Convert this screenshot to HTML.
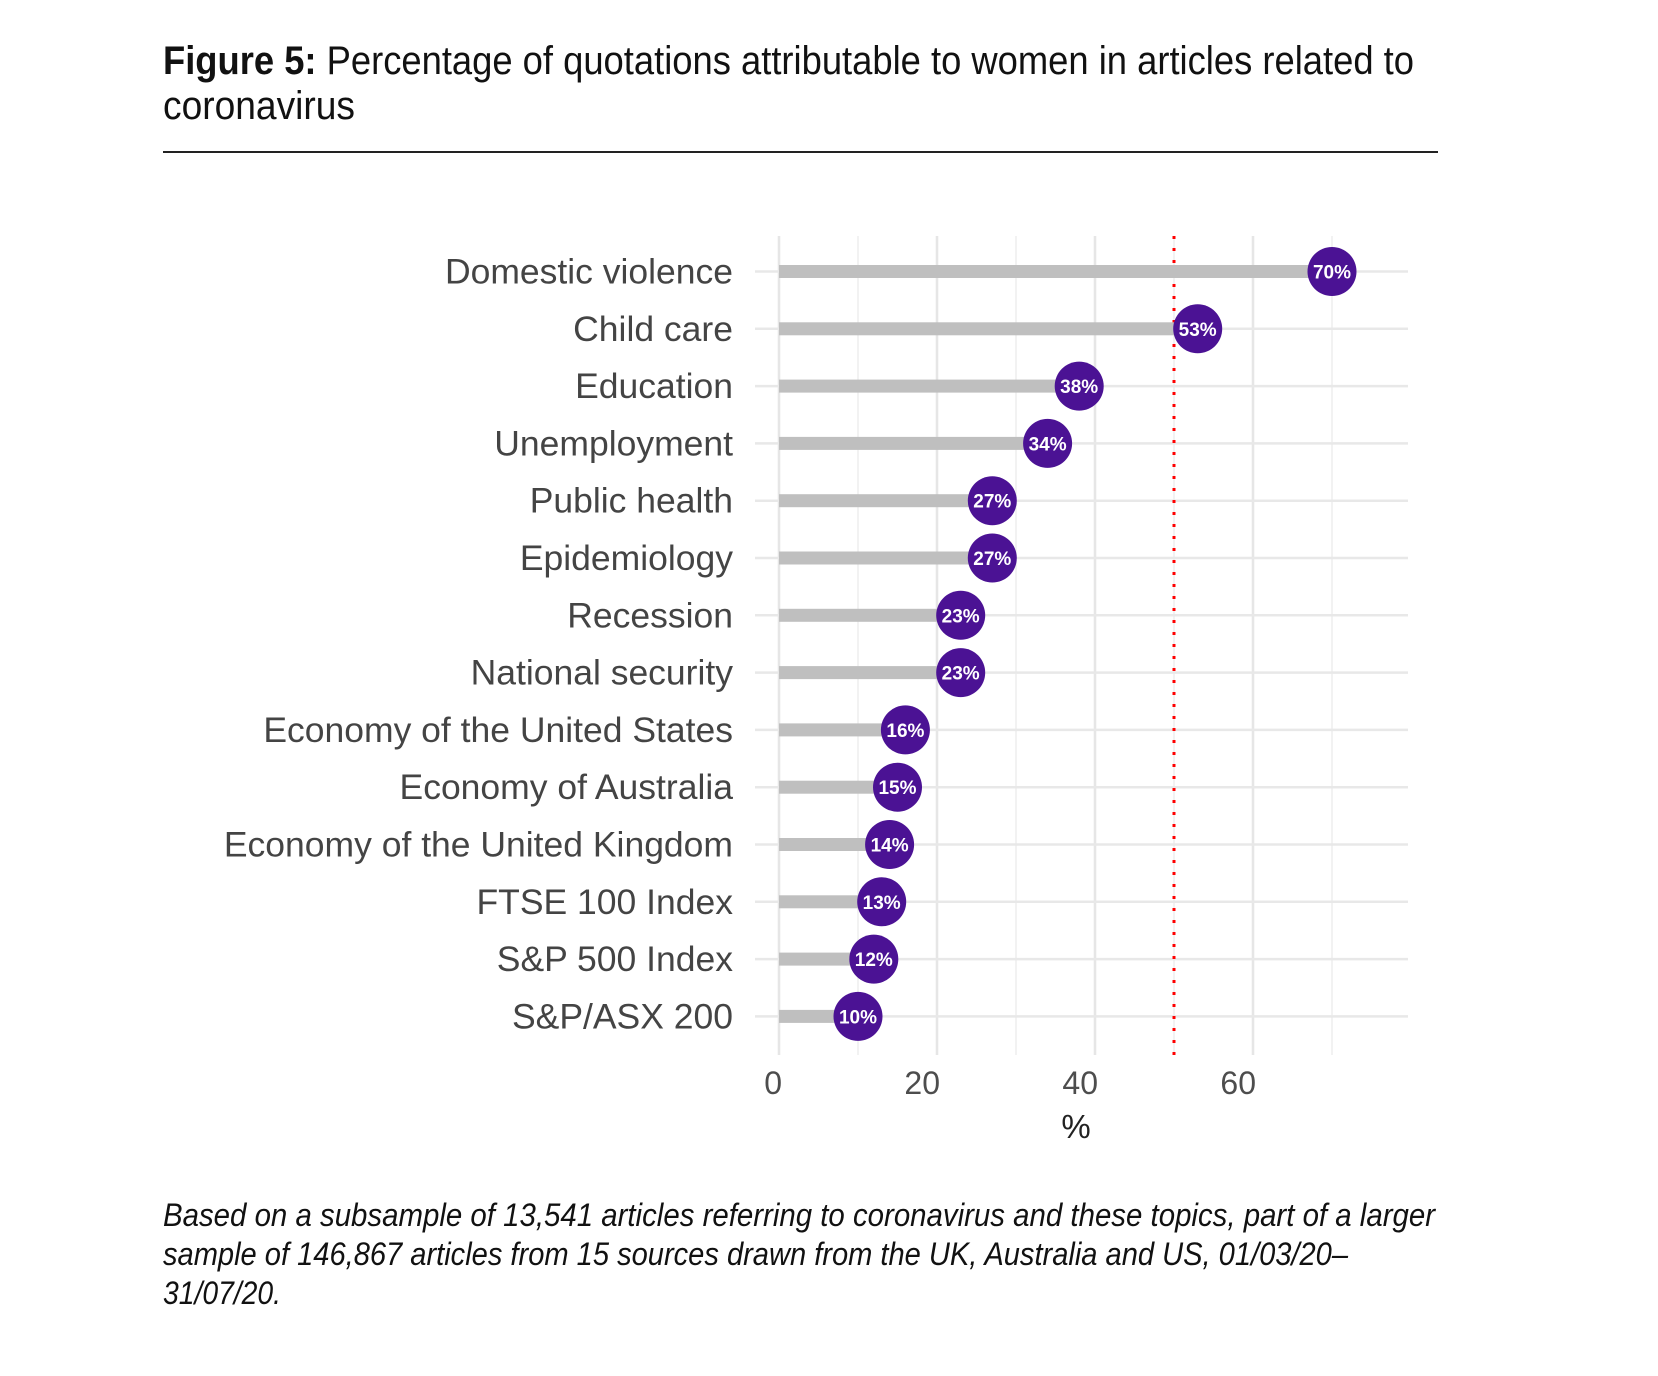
<!DOCTYPE html>
<html><head><meta charset="utf-8"><style>
html,body{margin:0;padding:0;background:#fff;}
svg{display:block;}
</style></head><body>
<svg width="1658" height="1376" viewBox="0 0 1658 1376" xmlns="http://www.w3.org/2000/svg">
<text x="163" y="74" font-family="Liberation Sans Narrow, Liberation Sans, sans-serif" font-size="40" fill="#111" textLength="1251" lengthAdjust="spacingAndGlyphs"><tspan font-weight="bold">Figure 5:</tspan> Percentage of quotations attributable to women in articles related to</text>
<text x="163" y="119" font-family="Liberation Sans Narrow, Liberation Sans, sans-serif" font-size="40" fill="#111" textLength="192" lengthAdjust="spacingAndGlyphs">coronavirus</text>
<line x1="163" y1="152" x2="1438" y2="152" stroke="#222" stroke-width="2"/>
<g id="chart"></g>
<g font-family="Liberation Sans Narrow, Liberation Sans, sans-serif" font-style="italic" font-size="32" fill="#111">
<text x="163" y="1226" textLength="1272" lengthAdjust="spacingAndGlyphs">Based on a subsample of 13,541 articles referring to coronavirus and these topics, part of a larger</text>
<text x="163" y="1265" textLength="1185" lengthAdjust="spacingAndGlyphs">sample of 146,867 articles from 15 sources drawn from the UK, Australia and US, 01/03/20–</text>
<text x="163" y="1304" textLength="118" lengthAdjust="spacingAndGlyphs">31/07/20.</text>
</g>
</svg>
<script>
const categories=["Domestic violence","Child care","Education","Unemployment","Public health","Epidemiology","Recession","National security","Economy of the United States","Economy of Australia","Economy of the United Kingdom","FTSE 100 Index","S&P 500 Index","S&P/ASX 200"];
const values=[70,53,38,34,27,27,23,23,16,15,14,13,12,10];
const valueLabels=["70%","53%","38%","34%","27%","27%","23%","23%","16%","15%","14%","13%","12%","10%"];
const xTicks=[0,20,40,60];
const xMinor=[10,30,50,70];
const refValue=50;
const NS="http://www.w3.org/2000/svg";
const g=document.getElementById('chart');
const xs=v=>779+v*7.9;
const ys=i=>271.5+i*57.3;
function el(t,a){const e=document.createElementNS(NS,t);for(const k in a)e.setAttribute(k,a[k]);g.appendChild(e);return e;}
const plotTop=236,plotBot=1055,plotLeft=755,plotRight=1408;
xMinor.forEach(v=>{const l=el('line',{x1:xs(v),x2:xs(v),y1:plotTop,y2:plotBot,stroke:'#ededed','stroke-width':1.5});

});
xTicks.forEach(v=>{const l=el('line',{x1:xs(v),x2:xs(v),y1:plotTop,y2:plotBot,stroke:'#e6e6e6','stroke-width':2.5});


const t=el('text',{x:xs(v)+3,y:1094,'text-anchor':'end','font-family':'Liberation Sans, sans-serif','font-size':32,fill:'#4d4d4d'});
t.textContent=v;

});
categories.forEach((c,i)=>{const l=el('line',{x1:plotLeft,x2:plotRight,y1:ys(i),y2:ys(i),stroke:'#e8e8e8','stroke-width':2.5});

});
const r=el('line',{x1:xs(refValue),x2:xs(refValue),y1:plotTop,y2:plotBot,stroke:'#ff0000','stroke-width':3,'stroke-dasharray':'3 9'});


categories.forEach((c,i)=>{
const t=el('text',{x:733,y:ys(i)+12,'text-anchor':'end','font-family':'Liberation Sans, sans-serif','font-size':35.5,fill:'#444'});
t.textContent=c;


const b=el('rect',{x:xs(0),y:ys(i)-6.5,width:xs(values[i])-xs(0),height:13,fill:'#bfbfbf'});


const d=el('circle',{cx:xs(values[i]),cy:ys(i),r:24.5,fill:'#4b1294'});


const v=el('text',{x:xs(values[i]),y:ys(i)+7,'text-anchor':'middle','font-family':'Liberation Sans, sans-serif','font-weight':'bold','font-size':19,fill:'#fff'});
v.textContent=valueLabels[i];


});
const xt=el('text',{x:xs(37.6),y:1138,'text-anchor':'middle','font-family':'Liberation Sans, sans-serif','font-size':33,fill:'#222'});
xt.textContent='%';


</script>
</body></html>
